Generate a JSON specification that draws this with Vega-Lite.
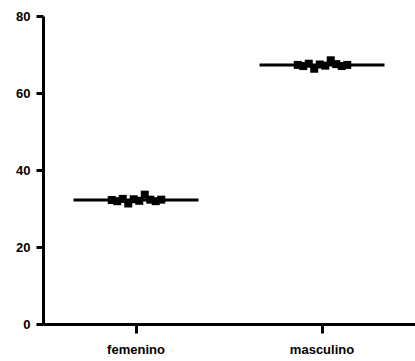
{
  "$schema": "https://vega.github.io/schema/vega-lite/v6.json",
  "autosize": "none",
  "width": 372,
  "height": 308,
  "padding": {"left": 43, "top": 16, "right": 0, "bottom": 37},
  "background": "white",
  "config": {"view": {"stroke": null}},
  "data": {"values": [
    {"sexo": "femenino", "id": 1, "valor": 32.2},
    {"sexo": "femenino", "id": 2, "valor": 31.9},
    {"sexo": "femenino", "id": 3, "valor": 32.5},
    {"sexo": "femenino", "id": 4, "valor": 31.3},
    {"sexo": "femenino", "id": 5, "valor": 32.4},
    {"sexo": "femenino", "id": 6, "valor": 32.0},
    {"sexo": "femenino", "id": 7, "valor": 33.6},
    {"sexo": "femenino", "id": 8, "valor": 32.3},
    {"sexo": "femenino", "id": 9, "valor": 31.9},
    {"sexo": "femenino", "id": 10, "valor": 32.3},
    {"sexo": "masculino", "id": 1, "valor": 67.3},
    {"sexo": "masculino", "id": 2, "valor": 67.0},
    {"sexo": "masculino", "id": 3, "valor": 67.6},
    {"sexo": "masculino", "id": 4, "valor": 66.3},
    {"sexo": "masculino", "id": 5, "valor": 67.4},
    {"sexo": "masculino", "id": 6, "valor": 67.1},
    {"sexo": "masculino", "id": 7, "valor": 68.5},
    {"sexo": "masculino", "id": 8, "valor": 67.5},
    {"sexo": "masculino", "id": 9, "valor": 67.0},
    {"sexo": "masculino", "id": 10, "valor": 67.3}
  ]},
  "encoding": {
    "x": {
      "field": "sexo", "type": "nominal",
      "scale": {"domain": ["femenino", "masculino"], "paddingInner": 0, "paddingOuter": 0},
      "axis": {
        "title": null, "labelAngle": 0, "tickSize": 9, "tickWidth": 3, "tickColor": "black",
        "domainWidth": 3, "domainColor": "black", "labelPadding": 10,
        "labelFont": "Liberation Sans", "labelFontWeight": "bold", "labelFontSize": 13, "labelColor": "black"
      }
    },
    "y": {
      "field": "valor", "type": "quantitative",
      "scale": {"domain": [0, 80], "nice": false},
      "axis": {
        "title": null, "values": [0, 20, 40, 60, 80], "grid": false,
        "tickSize": 7, "tickWidth": 3, "tickColor": "black",
        "domainWidth": 3, "domainColor": "black", "labelPadding": 6,
        "labelFont": "Liberation Sans", "labelFontWeight": "bold", "labelFontSize": 13, "labelColor": "black"
      }
    }
  },
  "layer": [
    {
      "mark": {"type": "tick", "color": "black", "size": 125, "thickness": 3, "opacity": 1},
      "encoding": {"y": {"aggregate": "mean", "field": "valor", "type": "quantitative"}}
    },
    {
      "mark": {"type": "point", "shape": "square", "filled": true, "color": "black", "size": 64, "opacity": 1},
      "encoding": {
        "xOffset": {"field": "id", "type": "ordinal", "scale": {"type": "point", "range": [66, 121]}}
      }
    }
  ]
}
